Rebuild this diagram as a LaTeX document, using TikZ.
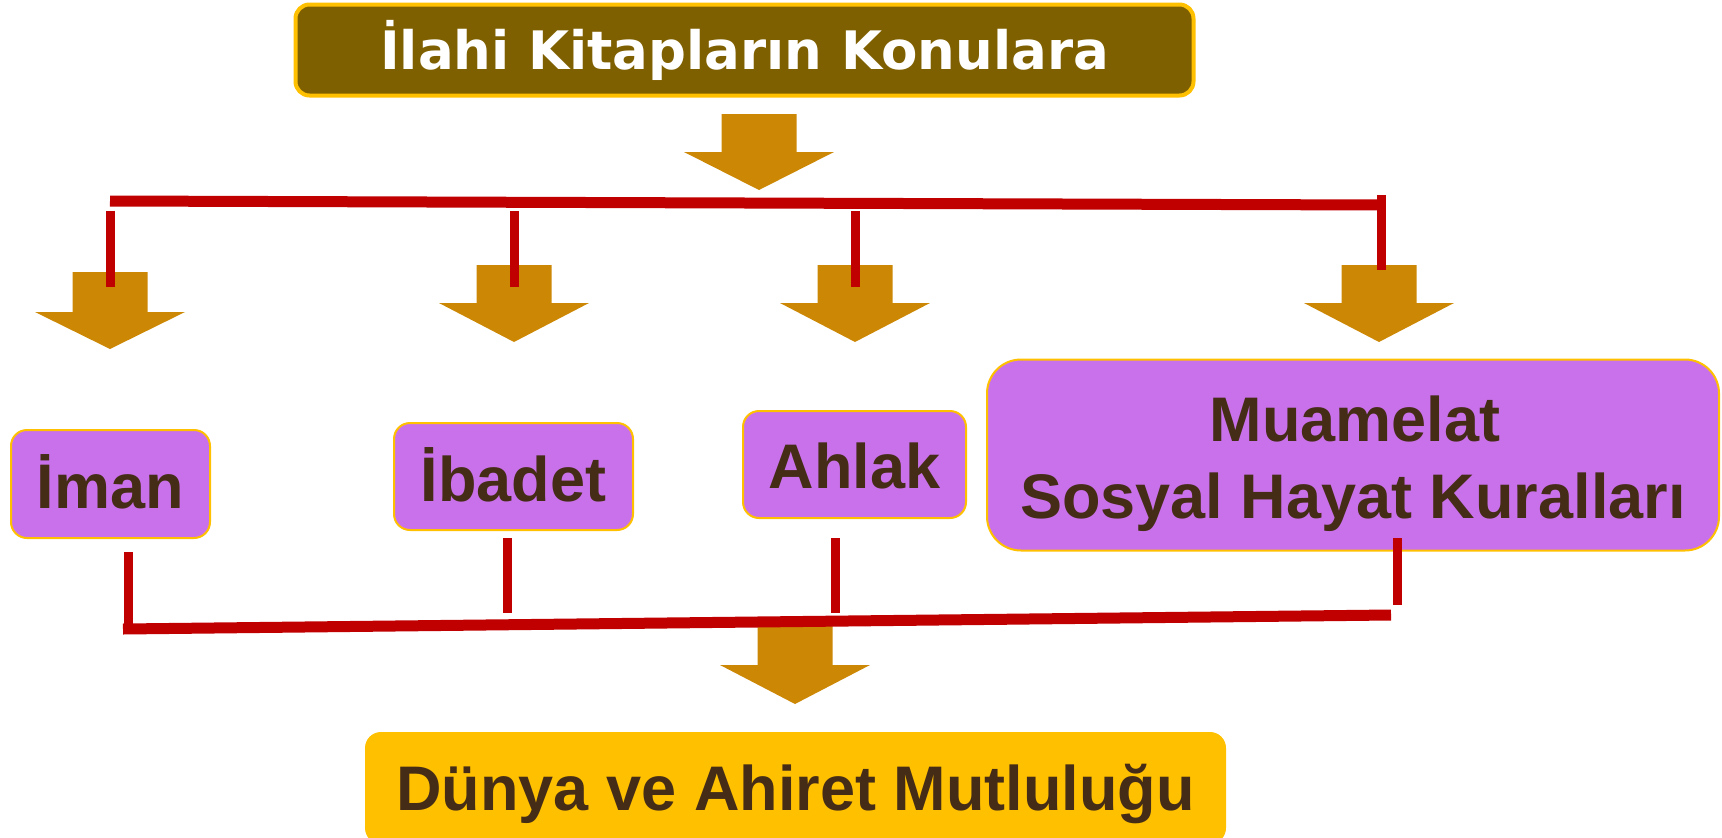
\documentclass[tikz,border=0pt]{standalone}
\usepackage{fontspec}
\newfontfamily\arialfont{Liberation Sans}
\newfontfamily\dejafont{DejaVu Sans}
\definecolor{olivebox}{HTML}{7F6000}
\definecolor{goldc}{HTML}{FFC000}
\definecolor{purplebox}{HTML}{C971EA}
\definecolor{textbrown}{HTML}{452C17}
\definecolor{redline}{HTML}{C00000}
\definecolor{arrowcol}{HTML}{CC8805}
\newcommand\blockarr[4]{% x, top, head start, tip
  \fill[arrowcol] ({#1-37.5},#2) -- ({#1+37.5},#2) -- ({#1+37.5},#3) -- ({#1+75},#3) -- (#1,#4) -- ({#1-75},#3) -- ({#1-37.5},#3) -- cycle;}
\begin{document}
\begin{tikzpicture}[x=1pt,y=-1pt,
  topic/.style={draw=goldc,line width=2pt,fill=purplebox,rounded corners=16pt,inner sep=0pt},
  lbl/.style={text=textbrown,font=\arialfont\bfseries\fontsize{63}{77}\selectfont,inner sep=0pt,anchor=base},
  redl/.style={draw=redline,line width=11pt},
  reds/.style={draw=redline,line width=9pt}]
\useasboundingbox (0,0) rectangle (1722,838);
% title
\node[draw=goldc,line width=4pt,fill=olivebox,rounded corners=14pt,minimum width=898pt,minimum height=91pt,
  text=white,font=\dejafont\bfseries\fontsize{53}{60}\selectfont,inner sep=0pt] (title) at (744.5,50) {İlahi Kitapların Konulara};
% arrows
\blockarr{759}{114}{152}{190}
\blockarr{110}{272}{312}{349}
\blockarr{514}{265}{303}{342}
\blockarr{855}{265}{303}{342}
\blockarr{1379}{265}{303}{342}
\blockarr{795}{618}{665}{704}
% boxes
\node[topic,minimum width=199pt,minimum height=108pt] (iman) at (110.5,484) {};
\node[lbl] (imant) at (110.5,508) {İman};
\node[topic,minimum width=239pt,minimum height=107pt] (ibadet) at (513.5,476.5) {};
\node[lbl] (ibadett) at (513.5,501) {İbadet};
\node[topic,minimum width=223pt,minimum height=107pt] (ahlak) at (854.5,464.5) {};
\node[lbl] (ahlakt) at (854.5,488) {Ahlak};
\node[topic,rounded corners=34pt,minimum width=732pt,minimum height=191pt] (muamelat) at (1353,455) {};
\node[lbl] (muamelat1) at (1355,441) {Muamelat};
\node[lbl] (muamelat2) at (1353,518) {Sosyal Hayat Kuralları};
\node[fill=goldc,rounded corners=16pt,minimum width=861pt,minimum height=112pt,inner sep=0pt] (result) at (795.5,788) {};
\node[lbl] (resultt) at (795.5,810) {Dünya ve Ahiret Mutluluğu};
% top red lines
\coordinate (tl) at (110,201);
\coordinate (tr) at (1381,205);
\draw[redl] (tl) -- (tr);
\draw[reds] (1381,195) -- (1381,270);
\draw[reds] (110,211) -- (110,287);
\draw[reds] (514,211) -- (514,287);
\draw[reds] (855,211) -- (855,287);
% bottom red lines
\coordinate (bl) at (123,629);
\coordinate (br) at (1391,615);
\draw[redl] (bl) -- (br);
\draw[reds] (128,552) -- (128,634);
\draw[reds] (507,538) -- (507,613);
\draw[reds] (835,538) -- (835,613);
\draw[reds] (1397,538) -- (1397,605);
\end{tikzpicture}
\end{document}
